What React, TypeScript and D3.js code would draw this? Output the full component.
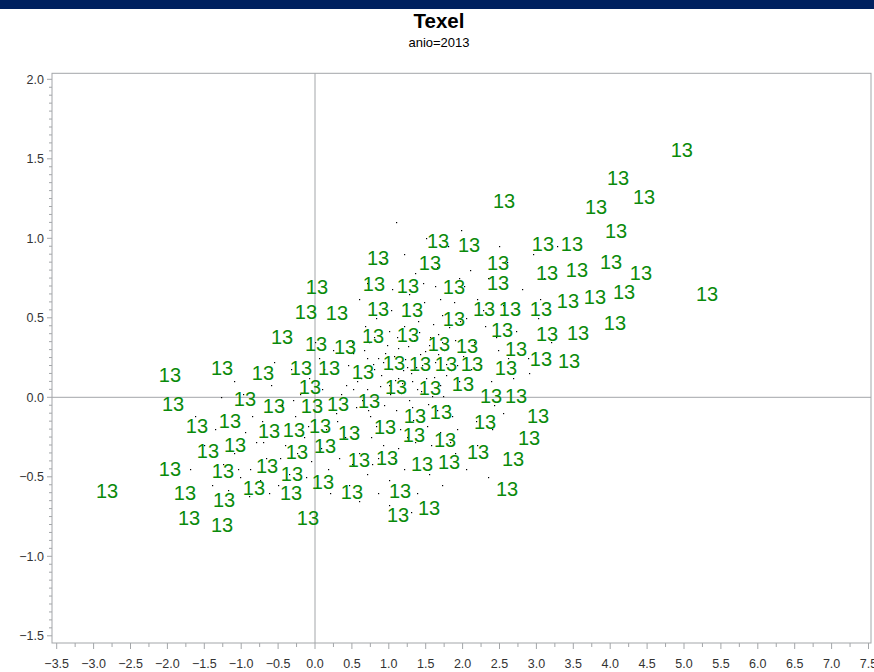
import React from "react";
import * as d3 from "d3";

const TITLE = "Texel";
const SUBTITLE = "anio=2013";
const LABEL = "13";

const xTicks = [-3.5, -3.0, -2.5, -2.0, -1.5, -1.0, -0.5, 0.0, 0.5, 1.0, 1.5, 2.0, 2.5, 3.0, 3.5, 4.0, 4.5, 5.0, 5.5, 6.0, 6.5, 7.0, 7.5];
const yTicks = [-1.5, -1.0, -0.5, 0.0, 0.5, 1.0, 1.5, 2.0];

// label positions (dimension 1, dimension 2)
const labelX = [
  4.97, 4.106, 4.458, 3.808, 2.561, 4.079, 1.667, 2.087, 3.089, 3.482,
  0.854, 1.558, 2.48, 3.144, 3.55, 4.011, 4.417, 0.027, 0.799, 1.26,
  1.883, 2.48, 5.312, -0.122, 0.298, 0.854, 1.314, 1.883, 2.29, 2.642,
  3.062, 3.428, 3.794, 4.187, -0.447, 0.014, 0.407, 0.786, 1.26, 1.68,
  2.06, 2.534, 3.144, 3.564, 4.065, 2.724, 3.062, 3.442, -1.965, -1.26,
  -0.705, -0.19, 0.19, 0.65, 1.07, 1.423, 1.775, 2.127, 2.588, -0.068,
  1.098, 1.558, 2.005, 2.385, 2.724, -1.924, -0.949, -0.556, -0.041, 0.312,
  0.732, 1.355, 1.707, 2.304, 3.022, -1.599, -1.152, -0.623, -0.285, 0.068,
  0.461, 0.949, 1.341, 1.762, 2.9, -1.45, -1.084, -0.244, 0.136, 0.596,
  0.976, 1.45, 1.816, 2.209, 2.683, -1.965, -1.247, -0.65, -0.312, 0.108,
  0.501, 1.152, 2.602, -2.818, -1.762, -1.233, -0.827, -0.325, -1.707, -1.26,
  -0.095, 1.125, 1.545,
];
const labelY = [
  1.558, 1.382, 1.262, 1.199, 1.237, 1.048, 0.985, 0.96, 0.966, 0.966,
  0.878, 0.846, 0.846, 0.783, 0.802, 0.853, 0.783, 0.695, 0.714, 0.701,
  0.695, 0.72, 0.651, 0.537, 0.531, 0.556, 0.55, 0.493, 0.556, 0.556,
  0.556, 0.607, 0.632, 0.664, 0.38, 0.336, 0.317, 0.386, 0.393, 0.336,
  0.323, 0.424, 0.399, 0.405, 0.468, 0.304, 0.241, 0.229, 0.141, 0.185,
  0.153, 0.185, 0.185, 0.159, 0.216, 0.21, 0.21, 0.21, 0.185, 0.065,
  0.065, 0.059, 0.084, 0.008, 0.008, -0.042, -0.011, -0.055, -0.055, -0.042,
  -0.023, -0.118, -0.093, -0.156, -0.118, -0.181, -0.149, -0.212, -0.206, -0.181,
  -0.225, -0.187, -0.238, -0.269, -0.256, -0.338, -0.301, -0.345, -0.307, -0.395,
  -0.382, -0.42, -0.408, -0.345, -0.389, -0.452, -0.464, -0.433, -0.483, -0.534,
  -0.597, -0.59, -0.578, -0.59, -0.603, -0.647, -0.572, -0.603, -0.761, -0.805,
  -0.761, -0.742, -0.698,
];

// small observation dots
const dotX = [
  0.62, 0.71, 0.78, 0.85, 0.9, 0.95, 1.02, 1.05, 1.1, 1.13, 1.18, 1.22, 1.27, 1.3, 1.34, 1.38, 1.42, 1.47, 1.5, 1.55,
  1.58, 1.63, 1.67, 1.7, 1.75, 1.8, 1.84, 1.9, 1.95, 2.0, 0.55, 0.66, 0.74, 0.8, 0.88, 0.97, 1.0, 1.08, 1.15, 1.2,
  1.25, 1.33, 1.4, 1.45, 1.52, 1.6, 1.65, 1.72, 1.78, 1.86, 0.45, 0.5, 0.58, 0.68, 0.76, 0.83, 0.92, 1.03, 1.12, 1.23,
  1.36, 1.48, 1.57, 1.69, 1.82, 1.93, 2.05, 2.1, 2.15, 2.2, 0.35, 0.28, 0.22, 0.15, 0.1, 0.05, -0.02, -0.08, -0.15, -0.2,
  -0.27, -0.33, -0.4, -0.45, -0.52, -0.6, -0.66, -0.72, -0.8, -0.88, -0.95, -1.02, -1.1, -1.18, -1.25, 0.4, 0.32, 0.25, 0.18, 0.08,
  0.0, -0.05, -0.12, -0.25, -0.35, -0.5, -0.62, -0.75, -0.9, -0.55, 2.25, 2.3, 2.35, 2.42, 2.48, 2.55, 2.6, 2.68, 2.72, 2.8,
  2.88, 2.95, 3.02, 3.1, 3.2, 3.28, 2.4, 2.5, 2.1, 1.95, 0.7, 0.9, 1.05, 1.2, 1.35, 1.5, 1.65, 1.8, 1.98, 1.1,
  0.6, 0.4, 0.95, 0.5, 0.7, 0.85, 1.0, 1.2, 1.38, 1.55, 1.72, 1.9, 2.05, 2.2, 2.35, 0.6, 1.3, 1.0, 0.85, -1.35,
  -1.5, -1.62, -1.4, -1.7, -1.28, -1.1, -0.98, 0.8, 0.86, 0.94, 1.0, 1.07, 1.16, 1.19, 1.26, 1.31, 1.37, 1.44, 1.49, 1.53,
  1.61, 1.66, 1.73, 1.77, 0.7, 0.64, 0.57,
  0.3, 0.42, 0.52, 0.6, 0.73, 0.82, 0.98, 1.11, 1.24, 1.41, 1.56, 1.69, 1.83, 1.97, 2.12, 2.28, 2.45, 2.62, 0.12, -0.1,
  -0.3, -0.48, -0.7, -0.85, -1.05, 0.2, 0.46, 0.77, 1.09, 1.28, 1.46, 1.62, 1.88, 2.02, 2.18, 2.38, 2.55, 2.75, 2.9, 3.05,
  1.12, 1.32, 1.52, 0.92, 0.72, 0.52, 1.72, 1.92,
];
const dotY = [
  0.12, 0.05, 0.21, -0.03, 0.14, 0.28, 0.02, 0.18, -0.08, 0.31, 0.09, 0.24, -0.02, 0.15, 0.36, 0.05, 0.27, -0.1, 0.12, 0.33,
  0.01, 0.22, 0.4, 0.08, 0.3, -0.05, 0.17, 0.36, 0.1, 0.26, -0.06, 0.3, -0.12, 0.38, 0.07, -0.15, 0.42, 0.11, -0.2, 0.45,
  0.19, -0.14, 0.48, 0.2, -0.18, 0.46, -0.08, 0.52, 0.14, -0.12, 0.2, 0.35, -0.2, 0.45, -0.25, 0.5, -0.3, 0.55, -0.32, 0.58,
  -0.28, 0.6, -0.3, 0.62, 0.44, -0.2, 0.5, 0.05, 0.35, 0.62, 0.02, -0.1, 0.15, -0.2, 0.05, 0.25, -0.08, 0.12, -0.25, 0.02,
  -0.12, 0.18, -0.3, -0.05, -0.2, 0.08, -0.38, -0.15, -0.28, -0.45, -0.22, -0.5, -0.35, -0.58, -0.42, -0.25, -0.38, 0.3, -0.45, -0.32,
  0.35, -0.4, -0.5, -0.35, -0.48, -0.55, -0.6, -0.52, -0.62, 0.22, 0.2, 0.45, 0.75, -0.05, 0.3, 0.58, 0.85, 0.12, 0.42, 0.68,
  0.25, 0.9, 0.5, 0.75, 0.35, 0.95, -0.2, 0.95, 0.8, 0.75, 0.72, 0.85, 0.68, 0.9, 0.78, 1.0, 0.82, 0.95, 1.05, 1.1,
  0.62, 0.55, 0.6, -0.42, -0.48, -0.38, -0.52, -0.45, -0.6, -0.48, -0.55, -0.35, -0.45, -0.3, -0.5, -0.65, -0.72, -0.68, -0.6, -0.2,
  -0.3, -0.12, -0.55, -0.45, 0.0, 0.1, 0.02, 0.18, 0.25, -0.05, 0.08, 0.26, 0.03, 0.17, 0.32, -0.06, 0.19, 0.04, 0.29, -0.04,
  0.13, 0.27, 0.01, 0.21, 0.25, -0.02, 0.1,
  -0.15, 0.08, 0.28, -0.35, 0.35, -0.18, 0.33, 0.38, -0.25, 0.41, 0.38, -0.22, -0.28, 0.48, 0.18, 0.55, 0.38, 0.25, 0.18, -0.18,
  -0.02, -0.38, -0.28, -0.12, -0.45, -0.6, -0.55, -0.42, -0.4, 0.65, 0.72, 0.7, 0.6, 0.7, -0.15, 0.1, -0.1, 0.55, 0.15, 0.62,
  0.12, 0.1, 0.25, 0.22, -0.08, 0.05, 0.35, 0.2,
];

const W = 874;
const H = 672;
const frame = { left: 52, right: 871, top: 73.3, bottom: 643 };
const GRAY = "#a3a6a9";
const TEXT = "#333333";
const GREEN = "#0a8a0a";
const FONT = "'Liberation Sans', Arial, sans-serif";

export default function App() {
  const x = d3.scaleLinear().domain([-3.5, 7.5]).range([56.7, 868.5]);
  const y = d3.scaleLinear().domain([-1.5, 2.0]).range([635.8, 79.3]);

  const xMinor = d3.range(-3.5, 7.5001, 0.25).filter((v) => Math.abs(v * 2 - Math.round(v * 2)) > 1e-6);
  const yMinor = d3.range(-1.5, 2.0001, 0.05).filter((v) => Math.abs(v * 2 - Math.round(v * 2)) > 1e-6);

  const fmt = d3.format(".1f");

  return (
    <svg
      width={W}
      height={H}
      style={{ position: "absolute", left: 0, top: 0, background: "#fff" }}
      fontFamily={FONT}
    >
      <rect x={0} y={0} width={W} height={9} fill="#00215f" />
      <text x={439} y={27.5} textAnchor="middle" fontSize={20.5} fontWeight="bold" fill="#000">
        {TITLE}
      </text>
      <text x={439} y={46.5} textAnchor="middle" fontSize={13} fill="#000">
        {SUBTITLE}
      </text>

      {/* reference lines */}
      <line x1={x(0)} x2={x(0)} y1={frame.top} y2={frame.bottom} stroke={GRAY} strokeWidth={1} />
      <line x1={frame.left} x2={frame.right} y1={y(0)} y2={y(0)} stroke={GRAY} strokeWidth={1} />

      {/* dots */}
      <g fill="#000">
        {dotX.map((dx, i) => (
          <rect key={i} x={Math.round(x(dx))} y={Math.round(y(dotY[i]))} width={1.2} height={1.2} />
        ))}
      </g>

      {/* labels */}
      <g fill={GREEN} fontSize={20}>
        {labelX.map((lx, i) => (
          <text key={i} x={x(lx)} y={y(labelY[i])} dy="0.36em" textAnchor="middle">
            {LABEL}
          </text>
        ))}
      </g>

      {/* frame */}
      <rect
        x={frame.left}
        y={frame.top}
        width={frame.right - frame.left}
        height={frame.bottom - frame.top}
        fill="none"
        stroke={GRAY}
        strokeWidth={1}
      />

      {/* axis ticks */}
      <g stroke={GRAY}>
        {xTicks.map((t) => (
          <line key={"xt" + t} x1={x(t)} x2={x(t)} y1={frame.bottom} y2={frame.bottom + 6} />
        ))}
        {xMinor.map((t) => (
          <line key={"xm" + t} x1={x(t)} x2={x(t)} y1={frame.bottom} y2={frame.bottom + 4} />
        ))}
        {yTicks.map((t) => (
          <line key={"yt" + t} x1={frame.left - 5} x2={frame.left} y1={y(t)} y2={y(t)} />
        ))}
        {yMinor.map((t) => (
          <line key={"ym" + t} x1={frame.left - 3} x2={frame.left} y1={y(t)} y2={y(t)} />
        ))}
      </g>
      <g fill={TEXT} fontSize={12.5}>
        {xTicks.map((t) => (
          <text key={"xl" + t} x={x(t)} y={668.3} textAnchor="middle">
            {fmt(t)}
          </text>
        ))}
        {yTicks.map((t) => (
          <text key={"yl" + t} x={44} y={y(t)} dy="0.36em" textAnchor="end">
            {fmt(t)}
          </text>
        ))}
      </g>
    </svg>
  );
}
